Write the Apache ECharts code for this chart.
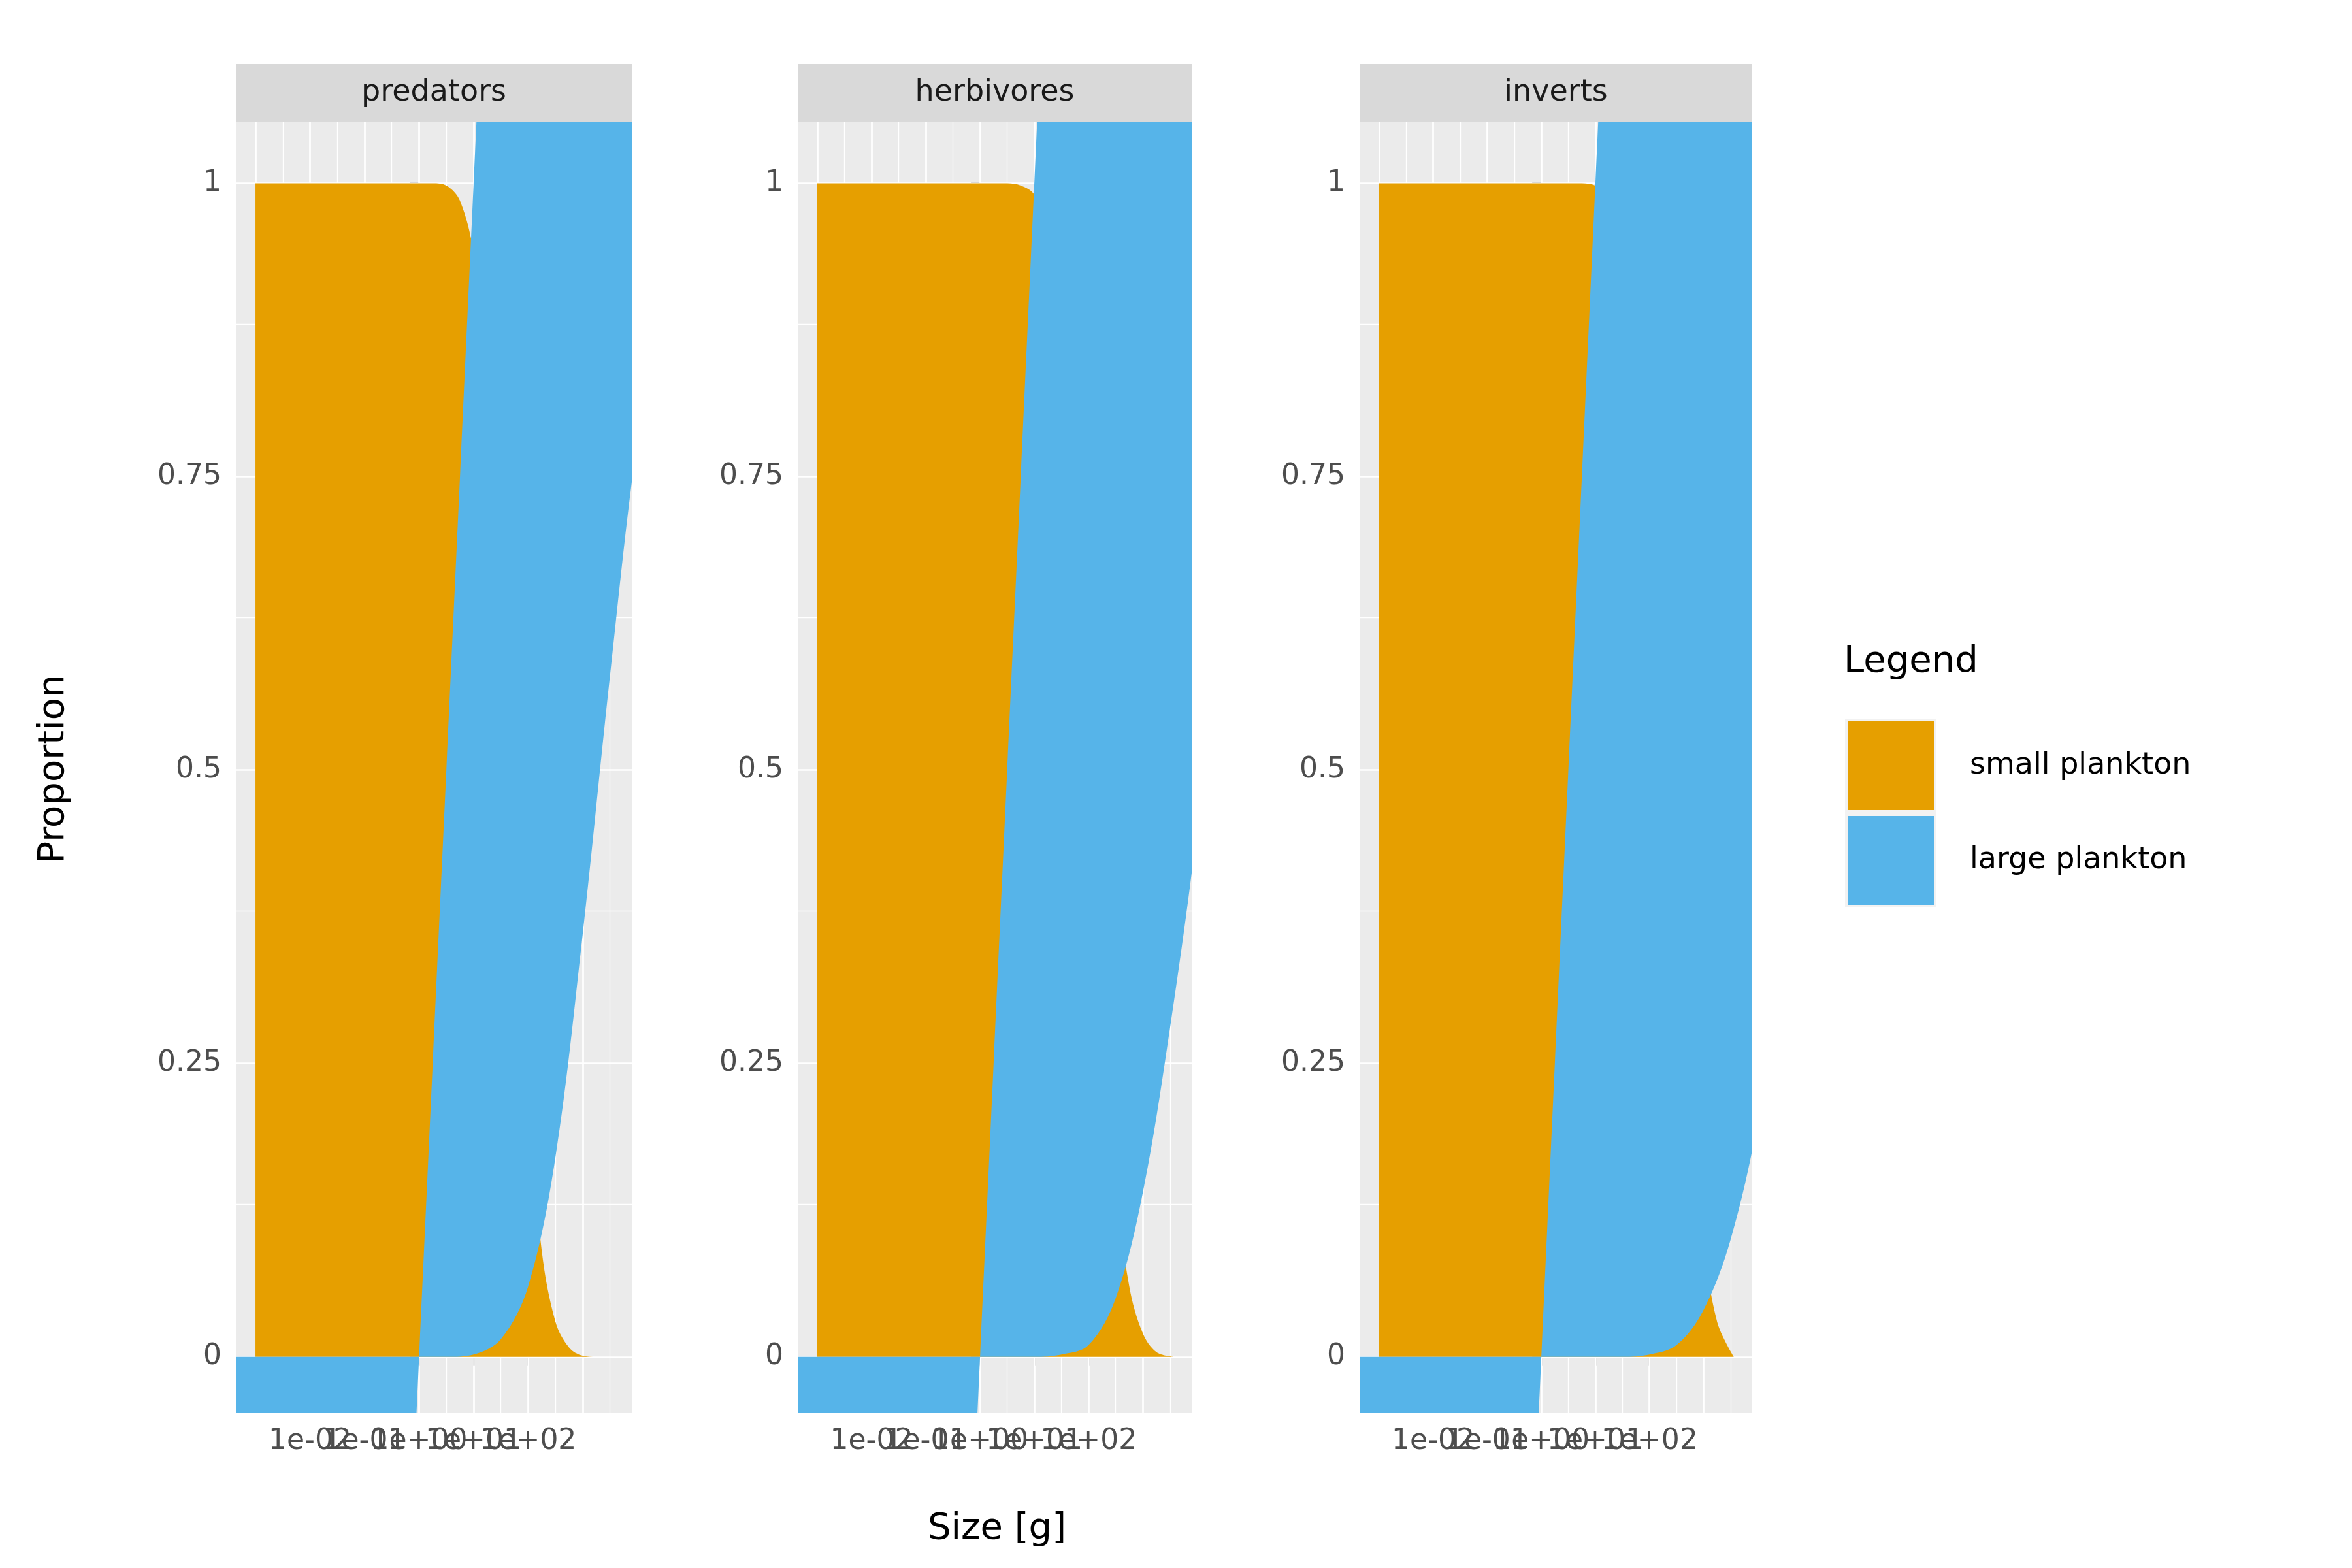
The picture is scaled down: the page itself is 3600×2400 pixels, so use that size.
<!DOCTYPE html>
<html>
<head>
<meta charset="utf-8">
<script src="https://cdn.jsdelivr.net/npm/echarts@6/dist/echarts.min.js"></script>
<style>html,body{margin:0;background:#fff}#c{width:3600px;height:2400px}</style>
</head>
<body>
<div id="c"></div>
<script>
// log10(size) positions
const sizes = [-3, -2, -1, 0, 0.25, 0.5, 0.75, 1, 1.25, 1.5, 1.75, 2, 2.25, 2.5, 2.75, 3, 3.25, 3.56];
const panels = ['predators', 'herbivores', 'inverts'];
const smallPlankton = [
    [1, 1, 1, 1, 1, 0.998, 0.985, 0.94, 0.83, 0.64, 0.42, 0.22, 0.09, 0.03, 0.008, 0.001, 0, 0],
    [1, 1, 1, 1, 1, 1, 0.998, 0.99, 0.95, 0.86, 0.72, 0.55, 0.33, 0.15, 0.06, 0.02, 0.004, 0],
    [1, 1, 1, 1, 1, 1, 1, 0.998, 0.99, 0.96, 0.9, 0.8, 0.65, 0.45, 0.24, 0.1, 0.03, 0]
];
const largePlankton = [
    [0, 0, 0, 0, 0, 0.002, 0.015, 0.06, 0.17, 0.36, 0.58, 0.78, 0.91, 0.97, 0.992, 0.999, 1, 1],
    [0, 0, 0, 0, 0, 0, 0.002, 0.01, 0.05, 0.14, 0.28, 0.45, 0.67, 0.85, 0.94, 0.98, 0.996, 1],
    [0, 0, 0, 0, 0, 0, 0, 0.002, 0.01, 0.04, 0.1, 0.2, 0.35, 0.55, 0.76, 0.9, 0.97, 1]
];
const xBreaks = [-3, -2, -1, 0, 1, 2, 3];
const xLabels = ['1e-03', '1e-02', '1e-01', '1e+00', '1e+01', '1e+02', '1e+03'];
const xMinor = [-2.5, -1.5, -0.5, 0.5, 1.5, 2.5, 3.5];
const yBreaks = [0, 0.25, 0.5, 0.75, 1];
const yLabels = ['0', '0.25', '0.5', '0.75', '1'];
const yMinor = [0.125, 0.375, 0.625, 0.875];

const panelX = [[361, 967], [1221, 1824], [2081, 2682]];
const panelTop = 187, panelBottom = 2163;
const colors = ['#E69F00', '#56B4E9'];

const grids = [], xAxes = [], yAxes = [], series = [], graphics = [];
panels.forEach((name, i) => {
    const [l, r] = panelX[i];
    grids.push({left: l, width: r - l, top: panelTop, height: panelBottom - panelTop, show: true,
        backgroundColor: '#EBEBEB', borderWidth: 0});
    xAxes.push({type: 'value', gridIndex: i, min: -3.36, max: 3.9,
        axisLine: {show: false}, splitLine: {show: false},
        axisTick: {show: true, customValues: xBreaks, length: 14, lineStyle: {color: '#333', width: 2.5}},
        axisLabel: {customValues: xBreaks, color: '#4D4D4D', fontSize: 44, margin: 22,
            formatter: v => xLabels[xBreaks.indexOf(v)]}});
    yAxes.push({type: 'value', gridIndex: i, min: -0.048, max: 1.052,
        axisLine: {show: false}, splitLine: {show: false},
        axisTick: {show: true, customValues: yBreaks, length: 14, lineStyle: {color: '#333', width: 2.5}},
        axisLabel: {customValues: yBreaks, color: '#4D4D4D', fontSize: 44, margin: 22,
            formatter: v => yLabels[yBreaks.indexOf(v)]}});
    // grid lines
    const ml = [];
    xBreaks.forEach(v => ml.push({xAxis: v, lineStyle: {width: 2.7}}));
    xMinor.forEach(v => ml.push({xAxis: v, lineStyle: {width: 1.3}}));
    yBreaks.forEach(v => ml.push({yAxis: v, lineStyle: {width: 2.7}}));
    yMinor.forEach(v => ml.push({yAxis: v, lineStyle: {width: 1.3}}));
    series.push({type: 'line', xAxisIndex: i, yAxisIndex: i, data: [], z: 1, silent: true,
        markLine: {symbol: 'none', silent: true, label: {show: false},
            lineStyle: {color: '#fff', type: 'solid'}, data: ml}});
    [smallPlankton[i], largePlankton[i]].forEach((vals, k) => {
        series.push({type: 'line', name: k ? 'large plankton' : 'small plankton',
            xAxisIndex: i, yAxisIndex: i, stack: 'p' + i, z: 5,
            data: sizes.map((s, j) => [s, vals[j]]), smooth: 0.35,
            symbol: 'none', lineStyle: {width: 0}, areaStyle: {color: colors[k], opacity: 1}});
    });
    graphics.push({type: 'rect', shape: {x: l, y: 98, width: r - l, height: panelTop - 98},
        style: {fill: '#D9D9D9'}});
    graphics.push({type: 'text', x: (l + r) / 2, y: (98 + panelTop) / 2,
        style: {text: name, fill: '#1A1A1A', fontSize: 46, align: 'center', verticalAlign: 'middle',
            fontFamily: 'DejaVu Sans'}});
});

graphics.push({type: 'text', x: 1526, y: 2340, style: {text: 'Size [g]', fill: '#000', fontSize: 56,
    align: 'center', verticalAlign: 'middle', fontFamily: 'DejaVu Sans'}});
graphics.push({type: 'text', x: 82, y: 1177, rotation: Math.PI / 2, style: {text: 'Proportion', fill: '#000',
    fontSize: 56, align: 'center', verticalAlign: 'middle', fontFamily: 'DejaVu Sans'}});
graphics.push({type: 'text', x: 2822, y: 1013, style: {text: 'Legend', fill: '#000', fontSize: 56,
    verticalAlign: 'middle', fontFamily: 'DejaVu Sans'}});
['small plankton', 'large plankton'].forEach((t, k) => {
    const y = 1102 + k * 145;
    graphics.push({type: 'rect', shape: {x: 2826, y: y, width: 136, height: 140},
        style: {fill: colors[k], stroke: '#F2F2F2', lineWidth: 4}});
    graphics.push({type: 'text', x: 3015, y: y + 70, style: {text: t, fill: '#000', fontSize: 46,
        verticalAlign: 'middle', fontFamily: 'DejaVu Sans'}});
});

const chart = echarts.init(document.getElementById('c'));
chart.setOption({
    animation: false,
    textStyle: {fontFamily: 'DejaVu Sans'},
    grid: grids, xAxis: xAxes, yAxis: yAxes, series: series, graphic: graphics
});
</script>
</body>
</html>
